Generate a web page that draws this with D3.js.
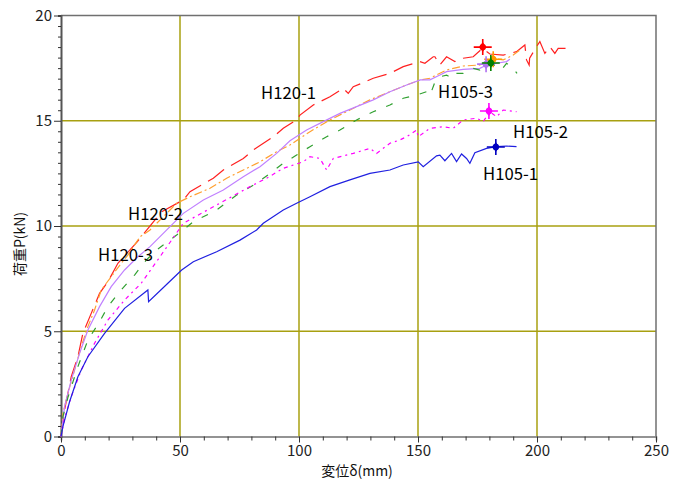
<!DOCTYPE html>
<html><head><meta charset="utf-8">
<script src="https://cdn.jsdelivr.net/npm/d3@7"></script>
<style>body{margin:0;background:#fff}svg{display:block}text{font-family:"Noto Sans CJK JP","DejaVu Sans",sans-serif}</style>
</head><body><svg id="c" width="684" height="480"></svg>
<script>
// ---- data ----
const xTicks = [0,50,100,150,200,250];
const yTicks = [0,5,10,15,20];
const seriesNames = ["H120-1","H120-2","H120-3","H105-3","H105-2","H105-1"];

const h120_1_x = [0,1.5,4.3,7.1,9.2,12.7,16.2,19.7,23.9,32,42.3,51.4,54.2,64,68.2,76.6,80.8,89.2,93.4,99,100.4,106,113,118.6,120.7,122.8,126.3,131.2,138.2,143.8,150.8,152.9,156.4,157.1,159.2,162,165.5,169,173.2,177.1,180.2,185.8,191.4,194.9,195.6,196.7,196.9,199.8,201.2,203.3,205.4,207.5,208.9,212];
const h120_1_y = [0,1.26,2.84,3.79,4.9,5.85,6.8,7.35,8.23,9.25,10.68,11.24,11.63,12.27,12.66,13.21,13.61,14.24,14.64,15.04,15.27,15.75,16.14,16.54,16.3,16.62,16.78,17.02,17.25,17.57,17.81,17.73,18.04,18.04,17.65,18.04,17.81,17.97,18.04,18.44,18.17,18.12,18.28,18.6,17.89,17.65,17.97,18.52,18.76,18.2,18.52,18.2,18.44,18.44];

const h120_2_x = [0,0.8,2.9,5.7,8.5,11.3,14.1,16.9,21.1,25.3,28.1,33.2,37.4,43,48.6,54.2,62.6,69.6,76.6,83.6,90.6,96.2,104.6,113,121.4,129.8,138.2,145.2,151,155,162,169,176,181.1,185.8,190,192.8];
const h120_2_y = [0,1.1,2.05,3.16,4.27,5.22,6.01,6.96,7.59,8.23,8.62,9.49,9.81,10.44,11.08,11.39,11.79,12.27,12.66,13.05,13.53,13.85,14.48,15.04,15.51,15.99,16.38,16.7,16.94,17.02,17.41,17.6,17.65,17.97,17.89,18.12,18.36];

const h120_3_x = [0,1.5,4.3,7.8,11.3,16.2,21.1,26.7,32.3,37.4,45.8,51.4,59.8,68.2,76.6,83.6,90.6,96.2,103.2,110.2,117.2,124.2,131.2,138.2,145.2,151,155,159.2,162,169,176,178.8,183,187.2,188.6];
const h120_3_y = [0,1.42,2.68,3.95,5.06,6.17,7.12,7.91,8.54,9.02,9.97,10.6,11.24,11.71,12.34,12.82,13.45,14.05,14.56,14.96,15.35,15.67,15.99,16.38,16.7,16.94,16.94,17.17,17.33,17.44,17.49,17.65,17.73,17.81,17.92];

const h105_3_x = [0,0.8,3,7.1,11.3,16.2,19.7,24.6,30.9,35.8,40.2,48.6,55.6,65.4,73.8,82.2,87.8,93.4,99,104.6,111.6,117.2,124.2,131.2,138.2,143.8,149.4,153.6,155,157,159.2,162,164.1,165.5,169,173.2,176,180.2,183,185,187.2,189.3,191.6];
const h105_3_y = [0,0.94,1.89,3.32,4.58,5.45,6.17,6.88,7.67,8.38,8.86,9.57,10.2,10.76,11.47,12.03,12.5,12.98,13.37,13.77,14.24,14.56,15.04,15.43,15.75,16.07,16.22,16.38,16.2,16.8,17.09,17.17,17.02,17.25,17.25,17.49,17.41,17.76,17.57,17.41,17.73,17.57,17.25];

const h105_2_x = [0,1.5,4.3,8.5,14.1,19.7,26.7,33.7,41.6,51.4,65.4,79.4,86.4,93.4,101.8,104.6,108.8,111.6,114.4,122.8,129.8,132.6,138.2,142.4,145.2,149.4,150.1,155,160.6,164.8,169,174.6,177.4,180.2,183,185.8,191.4];
const h105_2_y = [0,0.86,1.89,3.16,4.43,5.53,6.48,7.28,8.54,10.13,11.0,11.87,12.27,12.74,13.05,13.29,13.21,12.66,13.21,13.45,13.69,13.45,13.93,14.09,14.24,14.56,14.24,14.64,14.72,14.64,15.04,15.12,14.96,15.43,15.19,15.51,15.43];

const h105_1_x = [0,0.8,3.6,7.1,11.3,18.3,26.7,36.5,36.8,44.9,50.7,55.6,65.4,75.2,82.2,85,93.4,99,104.6,113,121.4,129.8,138.2,143.8,150.1,152.2,157.8,159.2,161.3,164.1,166.2,168.3,170.4,171.8,173.9,178.8,183,187.2,191.4];
const h105_1_y = [0,0.47,1.65,2.84,3.79,4.9,6.09,6.96,6.4,7.28,7.91,8.3,8.78,9.33,9.81,10.13,10.76,11.08,11.39,11.87,12.19,12.5,12.66,12.9,13.05,12.82,13.33,13.37,13.1,13.45,13.06,13.42,13.21,12.98,13.48,13.69,13.77,13.8,13.77];

const peakX = [177.2,181.6,178.6,180.6,179.8,182.7];
const peakY = [18.5,17.92,17.69,17.74,15.46,13.75];

// ---- styles ----
const colors = ["#ff2020","#ffa030","#c080ff","#30a030","#ff00ff","#2020e0"];
const markerColors = ["#ff0000","#ff9900","#b070f0","#008000","#ff00ff","#0000c0"];
const dashes = ["20,8","8,3,2,3","none","7,11","4,4,2,4","none"];
const labelPos = [[261,99],[128,220],[98,261],[438,98],[513,138],[483,180]];

const xs = [h120_1_x,h120_2_x,h120_3_x,h105_3_x,h105_2_x,h105_1_x];
const ys = [h120_1_y,h120_2_y,h120_3_y,h105_3_y,h105_2_y,h105_1_y];

const svg = d3.select("#c");
const L=61, R=656, T=15.5, B=436.5;
const x = d3.scaleLinear().domain([0,250]).range([L,R]);
const y = d3.scaleLinear().domain([0,20]).range([B,T]);

// grid
const grid = svg.append("g");
grid.selectAll(".gx").data(xTicks.filter(d=>d>0&&d<250)).join("line")
  .attr("x1",d=>x(d)).attr("x2",d=>x(d)).attr("y1",T).attr("y2",B)
  .attr("stroke","#a8a010").attr("stroke-width",1.5);
grid.selectAll(".gy").data(yTicks.filter(d=>d>0&&d<20)).join("line")
  .attr("x1",L).attr("x2",R).attr("y1",d=>y(d)).attr("y2",d=>y(d))
  .attr("stroke","#a8a010").attr("stroke-width",1.5);

// frame top/right
svg.append("path").attr("d",`M${L},${T}H${R}V${B}`).attr("fill","none").attr("stroke","#707070").attr("stroke-width",1.5);

// axes
const xAxis = svg.append("g").attr("transform",`translate(0,${B})`)
  .call(d3.axisBottom(x).tickValues(d3.range(0,251,10)).tickSize(4).tickFormat(d=>xTicks.includes(d)?d:""));
xAxis.select(".domain").attr("stroke","#707070").attr("stroke-width",1.5);
xAxis.selectAll(".tick line").attr("stroke","#333").attr("y2",d=>xTicks.includes(d)?6:4);
xAxis.selectAll("text").attr("font-size",15).attr("fill","#222").attr("dy","0.95em").attr("y",5);

const yAxis = svg.append("g").attr("transform",`translate(${L},0)`)
  .call(d3.axisLeft(y).tickValues(d3.range(0,20.01,0.5)).tickSize(3).tickFormat(d=>yTicks.includes(d)?d:""));
yAxis.select(".domain").attr("stroke","#555").attr("stroke-width",2);
yAxis.selectAll(".tick line").attr("stroke","#333").attr("x2",d=>yTicks.includes(d)?-7:-3);
yAxis.selectAll("text").attr("font-size",15).attr("fill","#222").attr("x",-9);

// lines
const line = d3.line().x(d=>x(d[0])).y(d=>y(d[1]));
xs.forEach((xa,i)=>{
  const pts = xa.map((v,j)=>[v,ys[i][j]]);
  svg.append("path").datum(pts).attr("d",line).attr("fill","none")
    .attr("stroke",colors[i]).attr("stroke-width",1.2)
    .attr("stroke-dasharray",dashes[i]);
});

// peak markers (cross with filled centre)
peakX.forEach((px,i)=>{
  const g = svg.append("g").attr("transform",`translate(${x(px)},${y(peakY[i])})`);
  g.append("path").attr("d","M-9,0H9M0,-8V8").attr("stroke",markerColors[i]).attr("stroke-width",1.6);
  g.append("path").attr("d","M0,-5L3.5,0L0,5L-3.5,0Z").attr("fill",markerColors[i]);
  g.append("circle").attr("r",3.2).attr("fill",markerColors[i]);
});

// series labels
seriesNames.forEach((n,i)=>{
  svg.append("text").attr("x",labelPos[i][0]).attr("y",labelPos[i][1])
    .attr("font-size",17).attr("textLength",55).attr("lengthAdjust","spacingAndGlyphs")
    .attr("fill","#000").text(n);
});

// axis titles
svg.append("text").attr("x",357).attr("y",476).attr("text-anchor","middle")
  .attr("font-size",14).attr("fill","#111").text("変位δ(mm)");
svg.append("text").attr("transform","translate(25,244) rotate(-90)").attr("text-anchor","middle")
  .attr("font-size",14).attr("fill","#111").text("荷重P(kN)");
</script></body></html>
